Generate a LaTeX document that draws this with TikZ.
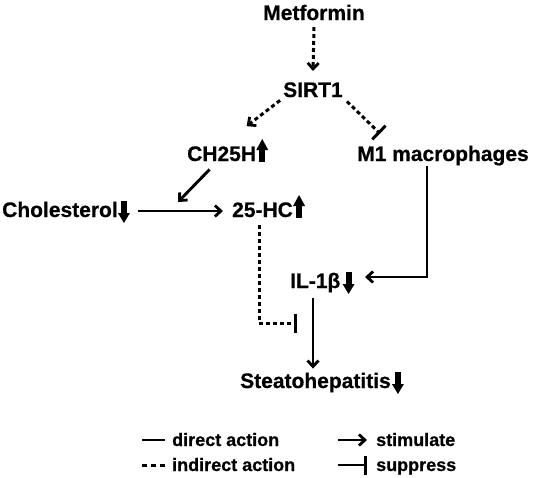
\documentclass[tikz,border=0pt]{standalone}
\usepackage{fontspec}
\setmainfont{Liberation Sans}[BoldFeatures={FakeBold=0.6}]
\usetikzlibrary{arrows.meta,calc}
\begin{document}
\begin{tikzpicture}[x=1pt,y=-1pt,
  lbl/.style={font=\fontsize{21}{25}\selectfont\bfseries, inner sep=0pt},
  leg/.style={font=\fontsize{18}{22}\selectfont\bfseries, inner sep=0pt, anchor=base west},
  direct/.style={line width=2.9pt},
  indirect/.style={line width=3pt, dash pattern=on 4pt off 3pt},
  stim/.style={-{Straight Barb[length=6pt,width=11pt,line width=2.8pt]}},
  supp/.style={-{Bar[width=19pt,line width=3pt]}},
  uparr/.pic={\fill (-3,1) rectangle (3,-12); \fill (-6,-11) -- (0,-22) -- (6,-11) -- cycle;},
  downarr/.pic={\fill (-3,-16) rectangle (3,-3); \fill (-6,-4) -- (0,6) -- (6,-4) -- cycle;},
]
\useasboundingbox[fill=white] (0,0) rectangle (533,477);

% nodes
\node[lbl, anchor=base] (met) at (314,20) {Metformin};
\node[lbl, anchor=base] (sirt) at (313,97) {SIRT1};
\node[lbl, anchor=base west] (ch) at (187,161) {CH25H};
\node[lbl, anchor=base west] (m1) at (357,161) {M1 macrophages};
\node[lbl, anchor=base west] (chol) at (2,217) {Cholesterol};
\node[lbl, anchor=base west] (hc) at (232,217) {25-HC};
\node[lbl, anchor=base west] (il) at (290,288) {IL-1β};
\node[lbl, anchor=base west] (st) at (240,388) {Steatohepatitis};

% up/down arrows
\pic at ($(ch.base east)+(6,0)$) {uparr};
\pic at ($(hc.base east)+(6,0)$) {uparr};
\pic at ($(chol.base east)+(6,0)$) {downarr};
\pic at ($(il.base east)+(8,0)$) {downarr};
\pic at ($(st.base east)+(7,0)$) {downarr};

% helper coordinates
\coordinate (cholarrowmid) at (178,202);
\coordinate (m1corner) at (427,277);
\coordinate (ilin) at (365,277);
\coordinate (hccorner) at (259,323);
\coordinate (ilbar) at (297,323);

% connectors
\draw[indirect, stim] (met.south |- 0,27) -- (sirt.north |- 0,71);
\draw[indirect, stim] ($(sirt.south west)+(-3,3)$) -- ($(ch.north)+(25,-20)$);
\draw[indirect, supp] ($(sirt.south east)+(4,4)$) -- ($(m1.north west)+(23,-12)$);
\draw[direct, stim] ($(ch.south)+(-12,8)$) -- (cholarrowmid);
\draw[direct, stim] (138,211) coordinate (cholout) -- (223,211) coordinate (hcin);
\draw[direct, stim] (m1.south -| m1corner) -- (m1corner) -- (ilin);
\draw[indirect, supp] ($(hc.south west)+(27,8)$) -- (hccorner) -- (ilbar);
\draw[direct, stim] ($(il.south west)+(23,5)$) -- ($(st.north west)+(73,-4)$);

% legend
\coordinate (la1) at (142,440); \coordinate (la2) at (165,440);
\coordinate (lb1) at (142,465); \coordinate (lb2) at (165,465);
\coordinate (lc1) at (338,440); \coordinate (lc2) at (367,440);
\coordinate (ld1) at (338,465); \coordinate (ld2) at (367,465);
\draw[direct] (la1) -- (la2);
\draw[indirect, dash pattern=on 5pt off 4pt] (lb1) -- (lb2);
\draw[direct, stim] (lc1) -- (lc2);
\draw[direct, supp] (ld1) -- (ld2);
\node[leg] (ldir) at (172,446) {direct action};
\node[leg] (lind) at (172,471) {indirect action};
\node[leg] (lsti) at (376,446) {stimulate};
\node[leg] (lsup) at (376,471) {suppress};
\end{tikzpicture}
\end{document}
